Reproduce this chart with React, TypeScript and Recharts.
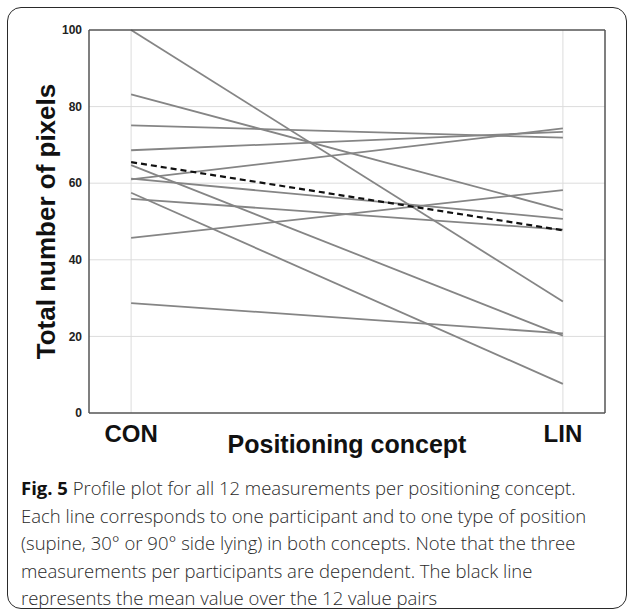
import { LineChart, Line, XAxis, YAxis, CartesianGrid, Label } from 'recharts';

// one value per participant/position
const conValues = [100, 83.2, 75.1, 68.6, 61.0, 61.2, 64.7, 57.5, 55.9, 45.7, 28.7];
const linValues = [29.1, 53.0, 71.9, 73.4, 74.3, 50.7, 20.2, 7.6, 47.9, 58.2, 20.8];
const meanValues = [65.5, 47.7];
const conceptLabels = ['CON', 'LIN'];
const yTicks = [0, 20, 40, 60, 80, 100];

const data = conceptLabels.map((name, i) => {
  const row: { [key: string]: number | string } = { x: i, name, mean: meanValues[i] };
  conValues.forEach((_, p) => {
    row['p' + p] = i === 0 ? conValues[p] : linValues[p];
  });
  return row;
});

const xDomain = [-0.0975, 1.0975];
const frame = '#555';

export default function App() {
  return (
    <div style={{ position: 'absolute', left: 0, top: 0, width: 629, height: 611, background: '#fff', overflow: 'hidden' }}>
      <div
        style={{
          position: 'absolute',
          left: 7,
          top: 7,
          width: 620,
          height: 602,
          border: '1.5px solid #2a2a2a',
          borderRadius: 14,
          boxSizing: 'border-box',
        }}
      />
      <div style={{ position: 'absolute', left: 0, top: 0 }}>
        <LineChart width={629} height={470} data={data} margin={{ top: 30, right: 24, left: 0, bottom: 0 }}>
          <CartesianGrid stroke="#dcdcdc" strokeWidth={1} verticalValues={[0, 1]} horizontalValues={[20, 40, 60, 80]} />
          <XAxis
            dataKey="x"
            type="number"
            domain={xDomain}
            allowDataOverflow
            ticks={[0, 1]}
            tickFormatter={(v: number) => conceptLabels[v]}
            height={57}
            tickLine={false}
            tickSize={0}
            tickMargin={12}
            axisLine={{ stroke: frame, strokeWidth: 1.5 }}
            tick={{ fontFamily: 'Liberation Sans, Arial, sans-serif', fontSize: 24, fontWeight: 'bold', fill: '#111' }}
          >
            <Label
              value="Positioning concept"
              position="insideBottom"
              offset={17}
              style={{ fontFamily: 'Liberation Sans, Arial, sans-serif', fontSize: 25, fontWeight: 'bold', fill: '#111' }}
            />
          </XAxis>
          <XAxis
            xAxisId="top"
            dataKey="x"
            type="number"
            orientation="top"
            domain={xDomain}
            allowDataOverflow
            ticks={[0, 1]}
            tick={false}
            mirror
            tickSize={4}
            height={1}
            axisLine={{ stroke: frame, strokeWidth: 1.5 }}
            tickLine={{ stroke: frame }}
          />
          <YAxis
            domain={[0, 100]}
            ticks={yTicks}
            width={89}
            tickLine={false}
            tickSize={0}
            tickMargin={7}
            axisLine={{ stroke: frame, strokeWidth: 1.5 }}
            tick={{ fontFamily: 'Liberation Sans, Arial, sans-serif', fontSize: 12, fontWeight: 'bold', fill: '#222' }}
          >
            <Label
              value="Total number of pixels"
              angle={-90}
              position="insideLeft"
              offset={41}
              dx={5}
              style={{ textAnchor: 'middle', fontFamily: 'Liberation Sans, Arial, sans-serif', fontSize: 26, fontWeight: 'bold', fill: '#111' }}
            />
          </YAxis>
          <YAxis
            yAxisId="right"
            orientation="right"
            domain={[0, 100]}
            ticks={yTicks}
            tick={false}
            mirror
            tickSize={4}
            width={1}
            axisLine={{ stroke: frame, strokeWidth: 1.5 }}
            tickLine={{ stroke: frame }}
          />
          {conValues.map((_, p) => (
            <Line
              key={p}
              dataKey={'p' + p}
              stroke="#858585"
              strokeWidth={1.8}
              dot={false}
              activeDot={false}
              isAnimationActive={false}
            />
          ))}
          <Line
            dataKey="mean"
            stroke="#111"
            strokeWidth={2.2}
            strokeDasharray="6 4"
            dot={false}
            activeDot={false}
            isAnimationActive={false}
          />
        </LineChart>
      </div>
      <div
        style={{
          position: 'absolute',
          left: 21,
          top: 474,
          fontFamily: '"Open Sans", sans-serif',
          fontSize: 18.5,
          fontWeight: 300,
          lineHeight: '27.5px',
          color: '#2a2a2a',
          whiteSpace: 'nowrap',
        }}
      >
        <div>
          <b style={{ color: '#111', fontWeight: 700 }}>Fig. 5</b> Profile plot for all 12 measurements per positioning concept.
        </div>
        <div>Each line corresponds to one participant and to one type of position</div>
        <div>(supine, 30° or 90° side lying) in both concepts. Note that the three</div>
        <div>measurements per participants are dependent. The black line</div>
        <div>represents the mean value over the 12 value pairs</div>
      </div>
    </div>
  );
}
